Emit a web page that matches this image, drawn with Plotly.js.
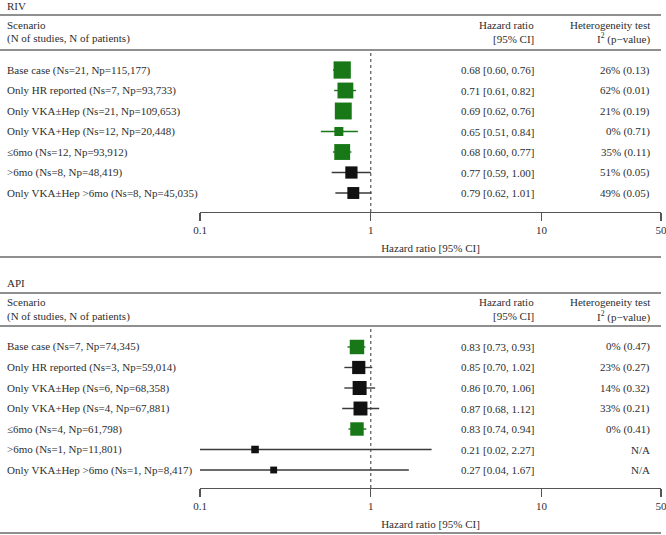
<!DOCTYPE html>
<html>
<head>
<meta charset="utf-8">
<script src="https://cdn.plot.ly/plotly-3.0.1.min.js"></script>
<style>html,body{margin:0;padding:0;background:#fff;}#chart{width:666px;height:535px;}</style>
</head>
<body>
<div id="chart"></div>
<script>
// ---------- data ----------
var scenarioNames = ["Base case", "Only HR reported", "Only VKA\u00b1Hep", "Only VKA+Hep", "\u22646mo", ">6mo", "Only VKA\u00b1Hep >6mo"];

var rivNs  = [21, 7, 21, 12, 12, 8, 8];
var rivNp  = [115177, 93733, 109653, 20448, 93912, 48419, 45035];
var rivHR  = [0.68, 0.71, 0.69, 0.65, 0.68, 0.77, 0.79];
var rivLo  = [0.60, 0.61, 0.62, 0.51, 0.60, 0.59, 0.62];
var rivHi  = [0.76, 0.82, 0.76, 0.84, 0.77, 1.00, 1.01];
var rivI2  = [26, 62, 21, 0, 35, 51, 49];
var rivP   = [0.13, 0.01, 0.19, 0.71, 0.11, 0.05, 0.05];

var apiNs  = [7, 3, 6, 4, 4, 1, 1];
var apiNp  = [74345, 59014, 68358, 67881, 61798, 11801, 8417];
var apiHR  = [0.83, 0.85, 0.86, 0.87, 0.83, 0.21, 0.27];
var apiLo  = [0.73, 0.70, 0.70, 0.68, 0.74, 0.02, 0.04];
var apiHi  = [0.93, 1.02, 1.06, 1.12, 0.94, 2.27, 1.67];
var apiI2  = [0, 23, 14, 33, 0, null, null];
var apiP   = [0.47, 0.27, 0.32, 0.21, 0.41, null, null];

var tickVals = [0.1, 1, 10, 50];
var tickText = ["0.1", "1", "10", "50"];

var panelTitles = ["RIV", "API"];
var headerLeft = ["Scenario", "(N of studies, N of patients)"];
var headerHR = ["Hazard ratio", "[95% CI]"];
var headerHet = ["Heterogeneity test", "I<sup>2</sup> (p\u2212value)"];
var axisTitle = "Hazard ratio [95% CI]";

// ---------- style ----------
var W = 666, H = 535;
var FONT = "Liberation Serif, Times New Roman, serif";
var TXT = "#2e2e2e";
var GREEN = "#187818";
var BLACK = "#111111";
var LINEC = "#6a6a6a";
function py(px) { return 1 - px / H; }
function pxX(px) { return px / W; }
function boxSize(np) { return 3 + 0.042 * Math.sqrt(np); }
function fmt(v) { return v.toFixed(2); }

var panels = [
  {ns: rivNs, np: rivNp, hr: rivHR, lo: rivLo, hi: rivHi, i2: rivI2, p: rivP,
   xa: "x", ya: "y", yref: "y",
   titleY: 6, line1: 15, h1: 25, h2: 39, line2: 50, bottom: 257},
  {ns: apiNs, np: apiNp, hr: apiHR, lo: apiLo, hi: apiHi, i2: apiI2, p: apiP,
   xa: "x2", ya: "y2", yref: "y2",
   titleY: 283, line1: 293, h1: 302, h2: 316, line2: 326, bottom: 533}
];

var traces = [];
var annotations = [];
var shapes = [];

panels.forEach(function (pn, k) {
  var rows = scenarioNames.map(function (_, i) { return i + 1; });
  var colors = pn.hi.map(function (h) { return h < 1 ? GREEN : BLACK; });
  var ciColors = pn.hi.map(function (h) { return h < 1 ? GREEN : "#3a3a3a"; });
  // CI lines
  rows.forEach(function (r, i) {
    traces.push({
      type: "scatter", mode: "lines", x: [pn.lo[i], pn.hi[i]], y: [r, r],
      xaxis: pn.xa, yaxis: pn.ya, line: {color: ciColors[i], width: 1.4},
      hoverinfo: "skip", showlegend: false
    });
  });
  // boxes
  traces.push({
    type: "scatter", mode: "markers", x: pn.hr, y: rows,
    xaxis: pn.xa, yaxis: pn.ya,
    marker: {symbol: "square", color: colors, opacity: 1, size: pn.np.map(boxSize), line: {width: 0}},
    hoverinfo: "skip", showlegend: false, cliponaxis: true
  });
  // row texts
  rows.forEach(function (r, i) {
    var label = scenarioNames[i] + " (Ns=" + pn.ns[i] + ", Np=" + pn.np[i].toLocaleString("en-US") + ")";
    var hrText = fmt(pn.hr[i]) + " [" + fmt(pn.lo[i]) + ", " + fmt(pn.hi[i]) + "]";
    var hetText = (pn.i2[i] === null) ? "N/A" : (pn.i2[i] + "% (" + fmt(pn.p[i]) + ")");
    annotations.push({xref: "paper", yref: pn.yref, x: pxX(5), y: r, xanchor: "left", yanchor: "middle", text: label, showarrow: false});
    annotations.push({xref: "paper", yref: pn.yref, x: pxX(536), y: r, xanchor: "right", yanchor: "middle", text: hrText, showarrow: false});
    annotations.push({xref: "paper", yref: pn.yref, x: pxX(652), y: r, xanchor: "right", yanchor: "middle", text: hetText, showarrow: false});
  });
  // headers
  annotations.push({xref: "paper", yref: "paper", x: pxX(5), y: py(pn.titleY), xanchor: "left", yanchor: "middle", text: panelTitles[k], showarrow: false});
  [pn.h1, pn.h2].forEach(function (yy, j) {
    annotations.push({xref: "paper", yref: "paper", x: pxX(5), y: py(yy), xanchor: "left", yanchor: "middle", text: headerLeft[j], showarrow: false});
    annotations.push({xref: "paper", yref: "paper", x: pxX(536), y: py(yy), xanchor: "right", yanchor: "middle", text: headerHR[j], showarrow: false});
    annotations.push({xref: "paper", yref: "paper", x: pxX(652), y: py(yy), xanchor: "right", yanchor: "middle", text: headerHet[j], showarrow: false});
  });
  // separator lines
  [pn.line1, pn.line2, pn.bottom].forEach(function (yy) {
    shapes.push({type: "line", xref: "paper", yref: "paper", x0: 0, x1: pxX(661), y0: py(yy), y1: py(yy),
      line: {color: LINEC, width: 1.5}});
  });
  // reference line at HR = 1
  shapes.push({type: "line", xref: pn.xa, yref: pn.ya + " domain", x0: 1, x1: 1, y0: 0, y1: 1,
    line: {color: "#333", width: 1, dash: "dot"}, layer: "below"});
});

function xaxisDef(anchor) {
  return {
    type: "log", domain: [pxX(200), pxX(661)], range: [-1, Math.log10(50)], anchor: anchor,
    showline: true, linecolor: "#555", linewidth: 1.2, mirror: false,
    ticks: "outside", ticklen: 8, tickwidth: 1.2, tickcolor: "#555",
    tickvals: tickVals, ticktext: tickText, showgrid: false, zeroline: false,
    ticklabeloverflow: "allow",
    tickfont: {family: FONT, size: 11, color: TXT},
    title: {text: axisTitle, font: {family: FONT, size: 11, color: TXT}, standoff: 8},
    fixedrange: true
  };
}
function yaxisDef(domTop, domBot, range) {
  return {domain: [py(domBot), py(domTop)], range: range, visible: false, showgrid: false, zeroline: false, fixedrange: true};
}

var layout = {
  width: W, height: H,
  margin: {l: 0, r: 0, t: 0, b: 0, pad: 0},
  paper_bgcolor: "#ffffff", plot_bgcolor: "rgba(0,0,0,0)",
  font: {family: FONT, size: 11, color: TXT},
  showlegend: false,
  xaxis: xaxisDef("y"),
  yaxis: yaxisDef(50, 212, [7.927, 0.024]),
  xaxis2: xaxisDef("y2"),
  yaxis2: yaxisDef(326, 488, [7.878, -0.024]),
  annotations: annotations,
  shapes: shapes
};

Plotly.newPlot("chart", traces, layout, {displayModeBar: false, staticPlot: true});
</script>
</body>
</html>
